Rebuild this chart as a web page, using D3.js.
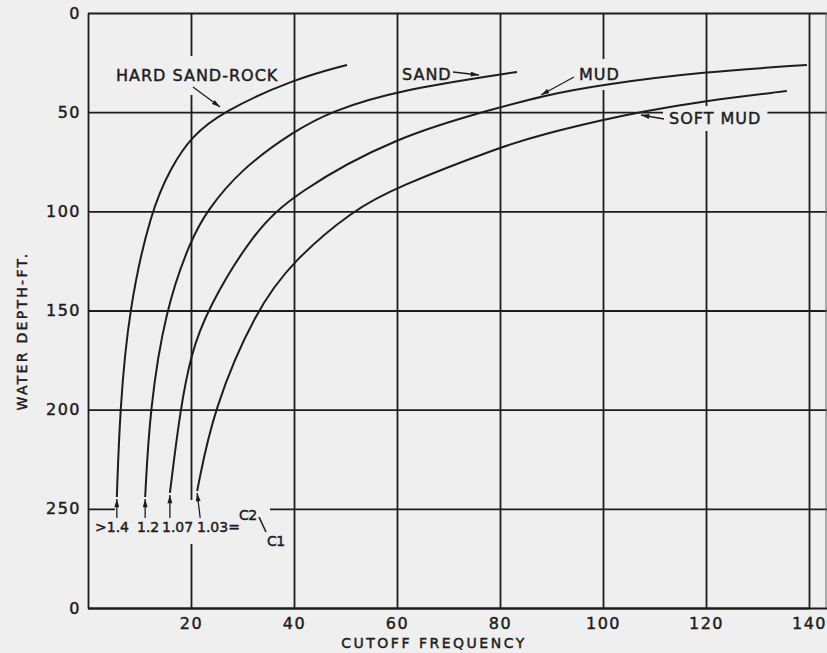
<!DOCTYPE html>
<html>
<head>
<meta charset="utf-8">
<script src="https://cdn.jsdelivr.net/npm/d3@7"></script>
<style>
  body { margin: 0; background: #efefef; }
  svg { display: block; }
  text { font-family: "DejaVu Sans", sans-serif; fill: #1d1d1d; stroke: #1d1d1d; stroke-width: 0.45px; }
</style>
</head>
<body>
<svg id="chart" width="827" height="653"></svg>
<script>
// points (mostly at grid crossings): [cutoff frequency, water depth ft]
const hardSandRock = [[50.3, 26.2], [40, 33.3], [26.0, 49.9], [20, 62.5], [16.1, 78], [12.2, 99.8], [7.9, 149.7], [6.2, 200], [5.6, 244]];
const sand = [[83.3, 29.7], [60, 39], [47.4, 49.4], [40, 59.5], [29.5, 79.2], [23.1, 99.8], [20, 114], [15, 149.7], [12, 200], [11.1, 244]];
const mud = [[139.6, 26.2], [119.4, 29.7], [100, 36.0], [87.8, 42.0], [80, 47.6], [60, 62], [40, 91], [32, 111], [23.1, 149.7], [20, 172], [17.9, 200], [15.9, 242]];
const softMud = [[135.7, 39.3], [119.4, 44.4], [107.2, 49.9], [100, 53.9], [87.8, 61.5], [80, 67.6], [60, 87.7], [51.5, 99.3], [40, 124.5], [32.6, 149.7], [24.3, 200], [21.2, 241]];

const curveNames = ['HARD SAND-ROCK', 'SAND', 'MUD', 'SOFT MUD'];
const ratioLabels = ['>1.4', '1.2', '1.07', '1.03='];
const xTicks = [20, 40, 60, 80, 100, 120, 140];
const yTicks = [0, 50, 100, 150, 200, 250, 300];
const yTickLabels = ['0', '50', '100', '150', '200', '250', '0'];

const curves = [hardSandRock, sand, mud, softMud];

const width = 827, height = 653;
const ink = '#1d1d1d';
const paper = '#efefef';

const svg = d3.select('#chart');
const x = d3.scaleLinear().domain([0, 140]).range([88, 809]);
const y = d3.scaleLinear().domain([0, 300]).range([13, 608]);

const defs = svg.append('defs');
defs.append('marker')
  .attr('id', 'head')
  .attr('viewBox', '0 0 10 6')
  .attr('refX', 10).attr('refY', 3)
  .attr('markerWidth', 9).attr('markerHeight', 5)
  .attr('markerUnits', 'userSpaceOnUse')
  .attr('orient', 'auto')
  .append('path')
  .attr('d', 'M0,0L10,3L0,6Z')
  .attr('fill', ink);

const gridG = svg.append('g');
const maskG = svg.append('g');
const curveG = svg.append('g');
const annoG = svg.append('g');

// ---- axes + grid ----
const yAxis = d3.axisLeft(y)
  .tickValues(yTicks)
  .tickFormat((d, i) => yTickLabels[i])
  .tickSize(-(width - x(0)))
  .tickSizeOuter(0)
  .tickPadding(7);

const xAxis = d3.axisBottom(x)
  .tickValues(xTicks)
  .tickSize(-(y(300) - y(0)))
  .tickSizeOuter(0)
  .tickPadding(10);

gridG.append('g')
  .attr('transform', `translate(${x(0)},0)`)
  .call(yAxis);

gridG.append('g')
  .attr('transform', `translate(0,${y(300)})`)
  .call(xAxis);

gridG.selectAll('.domain, .tick line')
  .attr('stroke', ink)
  .attr('stroke-width', 1.8);

gridG.selectAll('.tick text')
  .attr('fill', ink)
  .style('font-family', '"DejaVu Sans", sans-serif')
  .style('font-size', '16px')
  .style('letter-spacing', '1.5px');

// faint edge of the next panel
gridG.append('line')
  .attr('x1', 826).attr('x2', 826)
  .attr('y1', y(0)).attr('y2', y(300))
  .attr('stroke', '#666').attr('stroke-width', 1);

// axis titles
annoG.append('text')
  .attr('x', 434).attr('y', 648)
  .attr('text-anchor', 'middle')
  .style('font-size', '14px')
  .style('letter-spacing', '2.5px')
  .text('CUTOFF FREQUENCY');

annoG.append('text')
  .attr('transform', 'translate(27,331) rotate(-90)')
  .attr('text-anchor', 'middle')
  .style('font-size', '14px')
  .style('letter-spacing', '2.3px')
  .text('WATER DEPTH-FT.');

// ---- curves ----
const line = d3.line()
  .x(d => x(d[0]))
  .y(d => y(d[1]))
  .curve(d3.curveBasis);

curveG.selectAll('path')
  .data(curves)
  .join('path')
  .attr('d', line)
  .attr('fill', 'none')
  .attr('stroke', ink)
  .attr('stroke-width', 2);

// ---- curve name labels with arrows ----
const nameLayout = [
  {tx: 116, ty: 81, from: [193, 87], to: [220, 107], pad: [4, 10]},
  {tx: 402, ty: 80, from: [453, 72], to: [479, 75], pad: [2, 2]},
  {tx: 579, ty: 80, from: [574, 77], to: [541, 95], pad: [4, 6]},
  {tx: 669, ty: 124, from: [664, 119], to: [641, 115], pad: [6, 3]}
];

curveNames.forEach((name, i) => {
  const l = nameLayout[i];
  const t = annoG.append('text')
    .attr('x', l.tx).attr('y', l.ty)
    .style('font-size', '16px')
    .style('letter-spacing', '1px')
    .text(name);
  const b = t.node().getBBox();
  maskG.append('rect')
    .attr('x', b.x - l.pad[0]).attr('y', b.y - l.pad[1])
    .attr('width', b.width + 2 * l.pad[0]).attr('height', b.height + 2 * l.pad[1])
    .attr('fill', paper);
  annoG.append('line')
    .attr('x1', l.from[0]).attr('y1', l.from[1])
    .attr('x2', l.to[0]).attr('y2', l.to[1])
    .attr('stroke', ink).attr('stroke-width', 1.3)
    .attr('marker-end', 'url(#head)');
});

// ---- c2/c1 ratio labels at the bottom of the curves ----
maskG.append('rect')
  .attr('x', 115).attr('y', 500)
  .attr('width', 155).attr('height', 44)
  .attr('fill', paper);

const ratioX = [95, 137, 162, 197];
ratioLabels.forEach((lab, i) => {
  annoG.append('text')
    .attr('x', ratioX[i]).attr('y', 532)
    .style('font-size', '14px')
    .text(lab);
  const end = curves[i][curves[i].length - 1];
  const tipX = x(end[0]), tipY = y(end[1]) + 2;
  annoG.append('line')
    .attr('x1', tipX + (i === 3 ? 3 : 0)).attr('y1', 518)
    .attr('x2', tipX).attr('y2', tipY)
    .attr('stroke', ink).attr('stroke-width', 1.3)
    .attr('marker-end', 'url(#head)');
});

annoG.append('text')
  .attr('x', 239).attr('y', 520)
  .style('font-size', '14px')
  .style('letter-spacing', '-0.5px')
  .text('C2');
annoG.append('line')
  .attr('x1', 259).attr('y1', 517)
  .attr('x2', 266).attr('y2', 532)
  .attr('stroke', ink).attr('stroke-width', 1.6);
annoG.append('text')
  .attr('x', 267).attr('y', 546)
  .style('font-size', '14px')
  .style('letter-spacing', '-0.5px')
  .text('C1');
</script>
</body>
</html>
